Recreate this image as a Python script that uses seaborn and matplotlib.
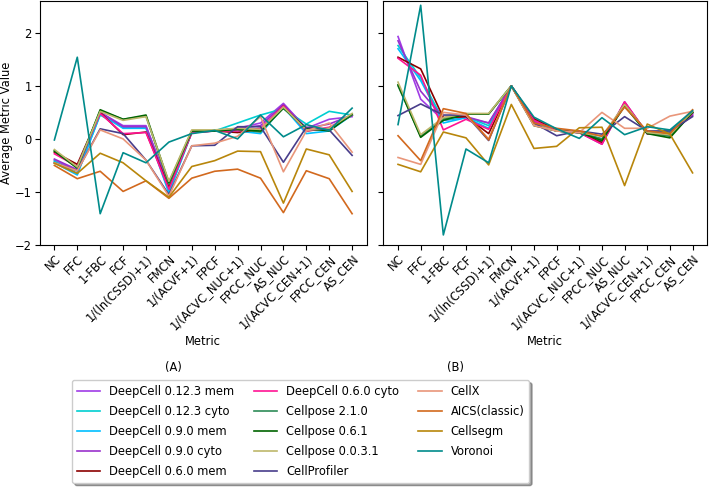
import pandas as pd
import numpy as np
import matplotlib
matplotlib.use("Agg")
import matplotlib.pyplot as plt
import seaborn as sns

# --- categories / methods ---
metrics = ["NC", "FFC", "1-FBC", "FCF", "1/(ln(CSSD)+1)", "FMCN", "1/(ACVF+1)", "FPCF",
           "1/(ACVC_NUC+1)", "FPCC_NUC", "AS_NUC", "1/(ACVC_CEN+1)", "FPCC_CEN", "AS_CEN"]

methods = ["DeepCell 0.12.3 mem", "DeepCell 0.12.3 cyto", "DeepCell 0.9.0 mem", "DeepCell 0.9.0 cyto",
           "DeepCell 0.6.0 mem", "DeepCell 0.6.0 cyto", "Cellpose 2.1.0", "Cellpose 0.6.1",
           "Cellpose 0.0.3.1", "CellProfiler", "CellX", "AICS(classic)", "Cellsegm", "Voronoi"]

colors = ["#a03ce6", "darkturquoise", "deepskyblue", "darkorchid", "darkred", "deeppink",
          "seagreen", "darkgreen", "darkkhaki", "darkslateblue", "darksalmon", "chocolate",
          "darkgoldenrod", "darkcyan"]

# --- panel A values (one list per method) ---
a_dc0123_mem = [-0.40, -0.60, 0.50, 0.25, 0.25, -0.90, 0.15, 0.15, 0.20, 0.30, 0.67, 0.20, 0.37, 0.42]
a_dc0123_cyto = [-0.42, -0.65, 0.45, 0.22, 0.22, -1.00, 0.13, 0.15, 0.30, 0.45, 0.57, 0.28, 0.52, 0.45]
a_dc090_mem = [-0.45, -0.68, 0.47, 0.20, 0.20, -1.02, 0.12, 0.15, 0.15, 0.10, 0.60, 0.10, 0.15, 0.45]
a_dc090_cyto = [-0.38, -0.58, 0.50, 0.23, 0.23, -0.88, 0.15, 0.15, 0.20, 0.25, 0.65, 0.20, 0.28, 0.45]
a_dc060_mem = [-0.25, -0.48, 0.50, 0.08, 0.13, -0.92, 0.12, 0.15, 0.12, 0.18, 0.62, 0.15, 0.20, 0.45]
a_dc060_cyto = [-0.28, -0.52, 0.48, 0.10, 0.12, -0.95, 0.12, 0.15, 0.15, 0.20, 0.62, 0.15, 0.22, 0.45]
a_cp210 = [-0.22, -0.55, 0.53, 0.37, 0.43, -0.85, 0.15, 0.15, 0.18, 0.13, 0.58, 0.18, 0.17, 0.45]
a_cp061 = [-0.23, -0.55, 0.55, 0.37, 0.45, -0.82, 0.15, 0.15, 0.18, 0.15, 0.58, 0.20, 0.15, 0.47]
a_cp0031 = [-0.20, -0.53, 0.52, 0.35, 0.42, -0.80, 0.17, 0.17, 0.20, 0.18, 0.60, 0.17, 0.20, 0.48]
a_cellprofiler = [-0.45, -0.60, 0.19, 0.10, -0.40, -1.05, -0.13, -0.12, 0.23, 0.23, -0.44, 0.22, 0.17, -0.31]
a_cellx = [-0.45, -0.60, 0.17, 0.00, -0.40, -1.08, -0.13, -0.08, 0.05, 0.42, -0.62, 0.15, 0.30, -0.25]
a_aics = [-0.50, -0.75, -0.61, -0.99, -0.79, -1.12, -0.74, -0.61, -0.57, -0.74, -1.39, -0.60, -0.75, -1.41]
a_cellsegm = [-0.46, -0.65, -0.27, -0.45, -0.79, -1.10, -0.52, -0.41, -0.23, -0.24, -1.21, -0.19, -0.30, -0.99]
a_voronoi = [-0.02, 1.54, -1.41, -0.26, -0.45, -0.06, 0.10, 0.16, 0.00, 0.45, 0.04, 0.27, 0.16, 0.58]

# --- panel B values ---
b_dc0123_mem = [1.93, 0.75, 0.35, 0.40, 0.30, 1.00, 0.35, 0.15, 0.12, -0.08, 0.70, 0.10, 0.10, 0.45]
b_dc0123_cyto = [1.76, 1.15, 0.35, 0.42, 0.25, 1.00, 0.35, 0.17, 0.12, 0.00, 0.62, 0.12, 0.15, 0.50]
b_dc090_mem = [1.70, 1.10, 0.30, 0.40, 0.20, 1.00, 0.30, 0.15, 0.12, -0.05, 0.65, 0.10, 0.12, 0.48]
b_dc090_cyto = [1.85, 0.90, 0.40, 0.42, 0.30, 1.00, 0.33, 0.15, 0.12, -0.10, 0.68, 0.10, 0.10, 0.45]
b_dc060_mem = [1.54, 1.32, 0.40, 0.42, 0.10, 1.00, 0.38, 0.17, 0.12, -0.07, 0.68, 0.10, 0.10, 0.50]
b_dc060_cyto = [1.52, 1.20, 0.17, 0.37, 0.18, 1.00, 0.35, 0.15, 0.12, -0.10, 0.70, 0.10, 0.07, 0.48]
b_cp210 = [1.00, 0.05, 0.38, 0.47, 0.47, 1.00, 0.27, 0.15, 0.12, 0.00, 0.63, 0.12, 0.05, 0.50]
b_cp061 = [1.02, 0.03, 0.35, 0.47, 0.47, 1.00, 0.25, 0.15, 0.12, -0.03, 0.62, 0.10, 0.02, 0.50]
b_cp0031 = [1.07, 0.08, 0.40, 0.48, 0.48, 1.00, 0.27, 0.15, 0.12, 0.05, 0.65, 0.12, 0.08, 0.52]
b_cellprofiler = [0.44, 0.66, 0.45, 0.45, -0.03, 1.00, 0.30, 0.06, 0.15, 0.09, 0.42, 0.15, 0.15, 0.42]
b_cellx = [-0.35, -0.48, 0.50, 0.45, 0.00, 1.00, 0.25, 0.15, 0.12, 0.50, 0.20, 0.20, 0.43, 0.52]
b_aics = [0.06, -0.41, 0.57, 0.48, -0.02, 1.00, 0.30, 0.20, 0.15, 0.05, 0.60, 0.15, 0.10, 0.55]
b_cellsegm = [-0.48, -0.62, 0.13, 0.02, -0.49, 0.65, -0.18, -0.14, 0.21, 0.22, -0.88, 0.28, 0.09, -0.64]
b_voronoi = [0.27, 2.52, -1.81, -0.19, -0.45, 1.00, 0.41, 0.19, 0.01, 0.40, 0.08, 0.23, 0.17, 0.53]

panel_a = [a_dc0123_mem, a_dc0123_cyto, a_dc090_mem, a_dc090_cyto, a_dc060_mem, a_dc060_cyto,
           a_cp210, a_cp061, a_cp0031, a_cellprofiler, a_cellx, a_aics, a_cellsegm, a_voronoi]
panel_b = [b_dc0123_mem, b_dc0123_cyto, b_dc090_mem, b_dc090_cyto, b_dc060_mem, b_dc060_cyto,
           b_cp210, b_cp061, b_cp0031, b_cellprofiler, b_cellx, b_aics, b_cellsegm, b_voronoi]


def to_long(panel):
    rows = []
    for m, vals in zip(methods, panel):
        for k, v in zip(metrics, vals):
            rows.append({"Metric": k, "Method": m, "Average Metric Value": v})
    return pd.DataFrame(rows)


df_a = to_long(panel_a)
df_b = to_long(panel_b)
palette = dict(zip(methods, colors))

FS = 8.3
plt.rcParams["font.size"] = FS
plt.rcParams["axes.linewidth"] = 0.8

fig = plt.figure(figsize=(7.12, 4.92), dpi=100)
ax1 = fig.add_axes([39.5 / 712, 1 - 245 / 492, 327.5 / 712, 244 / 492])
ax2 = fig.add_axes([383.3 / 712, 1 - 245 / 492, 324 / 712, 244 / 492], sharey=ax1)

sns.lineplot(data=df_a, x="Metric", y="Average Metric Value", hue="Method", palette=palette,
             hue_order=methods, sort=False, linewidth=1.2, ax=ax1)
sns.lineplot(data=df_b, x="Metric", y="Average Metric Value", hue="Method", palette=palette,
             hue_order=methods, sort=False, linewidth=1.2, legend=False, ax=ax2)

handles, labels = ax1.get_legend_handles_labels()
ax1.get_legend().remove()

for ax in (ax1, ax2):
    ax.set_ylim(-2, 2.6)
    ax.set_yticks([-2, -1, 0, 1, 2])
    ax.tick_params(axis="x", labelrotation=45, labelsize=FS, pad=2)
    ax.tick_params(axis="y", labelsize=FS, pad=2)
    for lbl in ax.get_xticklabels():
        lbl.set_ha("right")
        lbl.set_rotation_mode("anchor")
    ax.set_xlabel("Metric", fontsize=FS, labelpad=2)

ax1.set_ylabel("Average Metric Value", fontsize=FS, labelpad=1)
ax2.set_ylabel("")
plt.setp(ax2.get_yticklabels(), visible=False)

fig.text(173 / 712, 1 - 367 / 492, "(A)", ha="center", va="center", fontsize=FS)
fig.text(455 / 712, 1 - 367 / 492, "(B)", ha="center", va="center", fontsize=FS)

leg = fig.legend(handles, labels, ncol=3, loc="upper left",
                 bbox_to_anchor=(72 / 712, 1 - 380 / 492), fontsize=FS,
                 shadow=True, frameon=True, columnspacing=1.7, labelspacing=0.62,
                 borderaxespad=0)

fig.savefig("out.png", dpi=100)
